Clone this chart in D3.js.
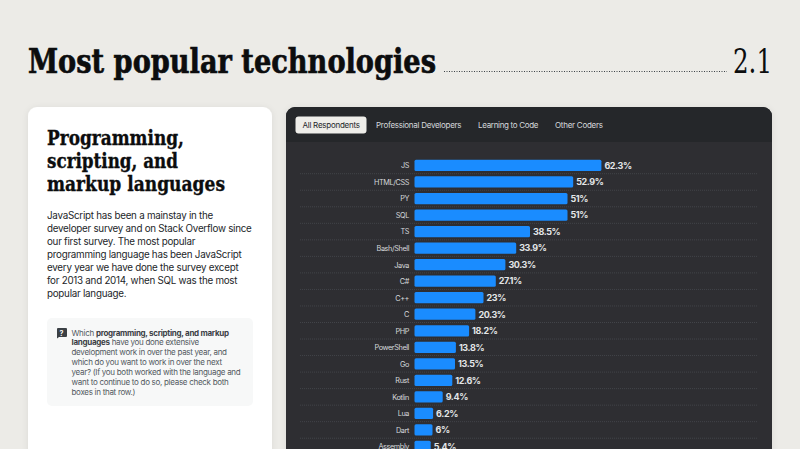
<!DOCTYPE html>
<html><head><meta charset="utf-8">
<script src="https://cdn.jsdelivr.net/npm/d3@7"></script>
<style>
html,body{margin:0;padding:0;background:#ecebe7;width:800px;height:449px;overflow:hidden}
svg{display:block}
</style></head><body>
<svg id="c" width="800" height="449"></svg>
<script>
const categories=["JS","HTML/CSS","PY","SQL","TS","Bash/Shell","Java","C#","C++","C","PHP","PowerShell","Go","Rust","Kotlin","Lua","Dart","Assembly"];
const values=[62.3,52.9,51,51,38.5,33.9,30.3,27.1,23,20.3,18.2,13.8,13.5,12.6,9.4,6.2,6,5.4];
const valueLabels=["62.3%","52.9%","51%","51%","38.5%","33.9%","30.3%","27.1%","23%","20.3%","18.2%","13.8%","13.5%","12.6%","9.4%","6.2%","6%","5.4%"];
const tabs=["All Respondents","Professional Developers","Learning to Code","Other Coders"];
const tabX=[302.5,376,478,555];
const tabW=[57.5,85.5,60.5,48];
const headingLines=["Programming,","scripting, and","markup languages"];
const headingW=[137,131,178];
const bodyLines=["JavaScript has been a mainstay in the","developer survey and on Stack Overflow since","our first survey. The most popular","programming language has been JavaScript","every year we have done the survey except","for 2013 and 2014, when SQL was the most","popular language."];
const questionLines=[[["Which ",0],["programming, scripting, and markup",1]],[["languages",1],[" have you done extensive",0]],[["development work in over the past year, and",0]],[["which do you want to work in over the next",0]],[["year? (If you both worked with the language and",0]],[["want to continue to do so, please check both",0]],[["boxes in that row.)",0]]];

const svg=d3.select("#c");
const slab="'DejaVu Serif',serif";
const sans="Inter,Roboto,sans-serif";
const defs=svg.append("defs");
const f=defs.append("filter").attr("id","sh").attr("x","-5%").attr("y","-5%").attr("width","110%").attr("height","110%");
f.append("feDropShadow").attr("dx",0).attr("dy",1).attr("stdDeviation",3).attr("flood-color","#000").attr("flood-opacity",0.08);
defs.append("clipPath").attr("id","panel").append("rect").attr("x",286).attr("y",107).attr("width",486).attr("height",360).attr("rx",9);

// Header
svg.append("text").attr("x",28).attr("y",72.700).attr("font-family",slab).attr("font-weight",700).attr("font-size",33.500)
  .attr("textLength",408).attr("lengthAdjust","spacingAndGlyphs").attr("fill","#0c0d0e").attr("stroke","#0c0d0e").attr("stroke-width",0.7).text("Most popular technologies");
svg.append("line").attr("x1",444).attr("x2",727).attr("y1",71.5).attr("y2",71.5).attr("stroke","#3b4045").attr("stroke-width",1).attr("stroke-dasharray","1 1.5");
svg.append("text").attr("x",733).attr("y",72.700).attr("font-family",slab).attr("font-size",33.500)
  .attr("textLength",39).attr("lengthAdjust","spacingAndGlyphs").attr("fill","#0c0d0e").text("2.1");

// Left card
svg.append("rect").attr("x",28).attr("y",107).attr("width",244).attr("height",360).attr("rx",9).attr("fill","#fff").attr("filter","url(#sh)");
svg.selectAll(".h").data(headingLines).join("text").attr("x",47).attr("y",(d,i)=>144.500+i*23)
  .attr("font-family",slab).attr("font-weight",700).attr("font-size",20.500).attr("fill","#0c0d0e").attr("stroke","#0c0d0e").attr("stroke-width",0.35)
  .attr("textLength",(d,i)=>headingW[i]).attr("lengthAdjust","spacingAndGlyphs").text(d=>d);
svg.selectAll(".b").data(bodyLines).join("text").attr("x",47).attr("y",(d,i)=>218.500+i*13.05)
  .attr("font-family",sans).attr("font-size",9.800).attr("letter-spacing",-0.25).attr("fill","#232629").text(d=>d);
svg.append("rect").attr("x",47).attr("y",318).attr("width",206).attr("height",88).attr("rx",5).attr("fill","#f7f8f8");
svg.append("path").attr("d","M57 329a1 1 0 0 1 1-1h8a1 1 0 0 1 1 1v7a1 1 0 0 1-1 1h-7l-2 1.500z").attr("fill","#3b4045");
svg.append("text").attr("x",61.500).attr("y",335.500).attr("text-anchor","middle").attr("font-family",sans).attr("font-size",7).attr("font-weight",700).attr("fill","#fff").text("?");
const q=svg.selectAll(".q").data(questionLines).join("text").attr("x",71.500).attr("y",(d,i)=>335.500+i*9.95)
  .attr("font-family",sans).attr("font-size",8).attr("letter-spacing",-0.29).attr("fill","#525960");
q.selectAll("tspan").data(d=>d).join("tspan").attr("font-weight",d=>d[1]?700:400).attr("fill",d=>d[1]?"#3b4045":"#525960").text(d=>d[0]);

// Dark panel
svg.append("rect").attr("x",286).attr("y",107).attr("width",486).attr("height",360).attr("rx",9).attr("fill","#2d2f33").attr("filter","url(#sh)");
const p=svg.append("g").attr("clip-path","url(#panel)");
p.append("rect").attr("x",286).attr("y",107).attr("width",486).attr("height",35).attr("fill","#25272a");
p.append("rect").attr("x",295.500).attr("y",116.500).attr("width",71).attr("height",17).attr("rx",3).attr("fill","#eeede9");
p.selectAll(".t").data(tabs).join("text").attr("x",(d,i)=>tabX[i]).attr("y",128)
  .attr("textLength",(d,i)=>tabW[i]).attr("lengthAdjust","spacing")
  .attr("font-family",sans).attr("font-size",8).attr("fill",(d,i)=>i?"#d6d9dc":"#232629").text(d=>d);

const x=d3.scaleLinear().domain([0,100]).range([414.500,714.500]);
const y=d3.scaleBand().domain(categories).range([157.200,157.200+16.530*categories.length]).paddingInner(0.32).paddingOuter(0.16);
const step=y.step();
const row=p.selectAll(".r").data(categories).join("g");
row.append("line").attr("x1",300).attr("x2",758)
  .attr("y1",d=>y(d)+y.bandwidth()/2+step/2).attr("y2",d=>y(d)+y.bandwidth()/2+step/2)
  .attr("stroke","#4a4e53").attr("stroke-width",0.7).attr("stroke-dasharray","1 1");
row.append("text").attr("x",409).attr("y",d=>y(d)+y.bandwidth()/2+2.900).attr("text-anchor","end")
  .attr("font-family",sans).attr("font-size",7.300).attr("letter-spacing",-0.4).attr("fill","#d6d9dc").text(d=>d);
row.append("rect").attr("x",x(0)).attr("y",d=>y(d)).attr("height",y.bandwidth())
  .attr("width",(d,i)=>x(values[i])-x(0)).attr("rx",1.500).attr("fill","#1a8cff");
row.append("text").attr("x",(d,i)=>x(values[i])+3).attr("y",d=>y(d)+y.bandwidth()/2+3.300)
  .attr("font-family",sans).attr("font-size",9).attr("letter-spacing",-0.4).attr("font-weight",700).attr("fill","#e3e6e8").text((d,i)=>valueLabels[i]);
</script>
</body></html>
